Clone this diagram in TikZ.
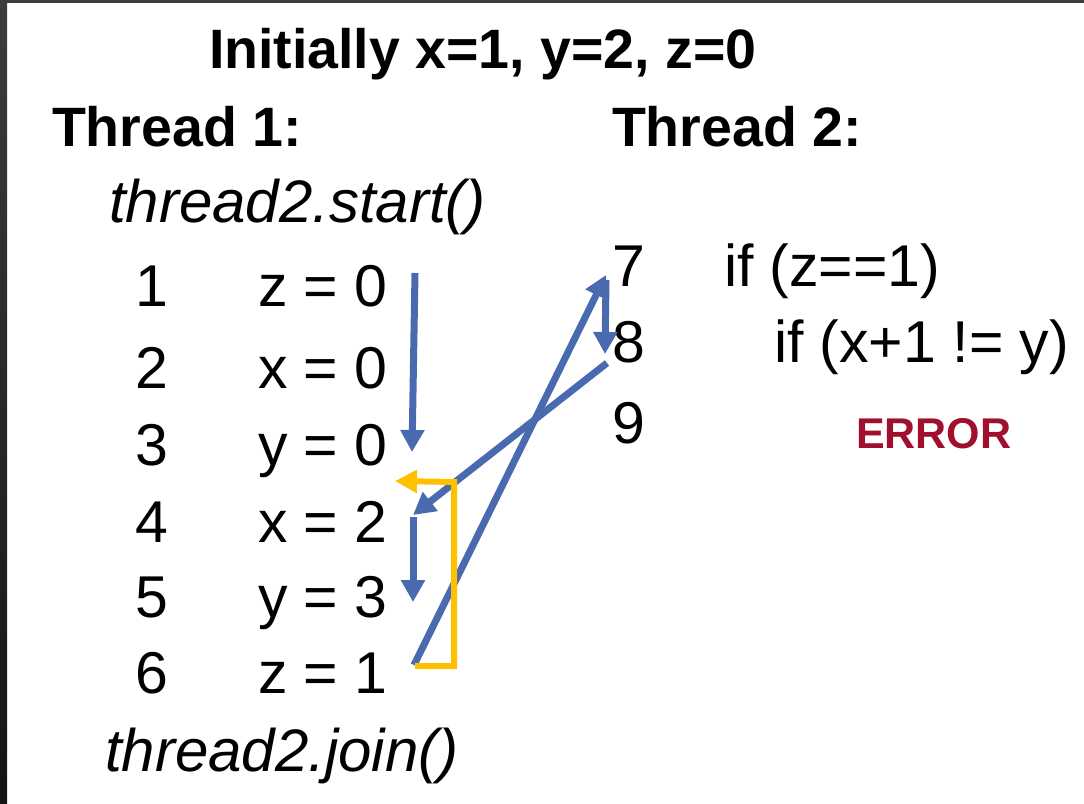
\documentclass[tikz,border=0pt]{standalone}
\usepackage{fontspec}
\setmainfont{Liberation Sans}
\usetikzlibrary{arrows.meta}
\definecolor{flowblue}{RGB}{74,106,175}
\definecolor{flowgold}{RGB}{255,192,0}
\definecolor{errred}{RGB}{160,16,46}
\definecolor{frameA}{RGB}{60,60,60}
\definecolor{frameB}{RGB}{20,20,20}
\tikzset{
  txt/.style={anchor=base west, inner sep=0pt, outer sep=0pt},
  head/.style={txt, font=\fontsize{55.5}{66}\selectfont\bfseries},
  big/.style={txt, font=\fontsize{59}{70}\selectfont},
  codeit/.style={txt, font=\fontsize{60}{72}\selectfont\itshape},
  errtxt/.style={txt, font=\fontsize{43}{52}\selectfont\bfseries, text=errred},
  flow/.style={draw=flowblue, line width=7pt, -{Triangle[length=22pt,width=23pt]}},
  back/.style={draw=flowgold, line width=6pt, line join=miter, -{Triangle[length=22pt,width=22pt]}}
}
\begin{document}
\begin{tikzpicture}[x=1pt,y=-1pt]
\useasboundingbox (0,0) rectangle (1084,803);
\fill[white] (0,0) rectangle (1084,803);
\fill[frameA] (0,0) rectangle (1084,3);
\shade[top color=frameA, bottom color=frameB] (0,0) rectangle (7,803);

% headings
\node[head] (title) at (209,68) {Initially x=1, y=2, z=0};
\node[head] (th1) at (52,146) {Thread 1:};
\node[head] (th2) at (612,146) {Thread 2:};
\node[codeit] (start) at (109,222) {thread2.start()};
\node[codeit] (join) at (105,771) {thread2.join()};

% thread 1 lines
\node[big] (n1) at (135,306) {1};
\node[big] (n2) at (135,388) {2};
\node[big] (n3) at (135,465) {3};
\node[big] (n4) at (135,542) {4};
\node[big] (n5) at (135,617) {5};
\node[big] (n6) at (135,693) {6};
\node[big] (s1) at (258,306) {z = 0};
\node[big] (s2) at (258,388) {x = 0};
\node[big] (s3) at (258,465) {y = 0};
\node[big] (s4) at (258,542) {x = 2};
\node[big] (s5) at (258,617) {y = 3};
\node[big] (s6) at (258,693) {z = 1};

% thread 2 lines
\node[big] (n7) at (612,286) {7};
\node[big] (n8) at (612,362) {8};
\node[big] (n9) at (612,443) {9};
\node[big] (c7) at (724,286) {if (z==1)};
\node[big] (c8) at (774,362) {if (x+1 != y)};
\node[errtxt] (err) at (856,448) {ERROR};

% connector end points
\coordinate (a1s) at (415,273);
\coordinate (a1e) at (412,452);
\coordinate (a2s) at (413,517);
\coordinate (a2e) at (413,602);
\coordinate (a3s) at (414,665);
\coordinate (a3e) at (606,275);
\coordinate (a4s) at (606,280);
\coordinate (a4e) at (605,354);
\coordinate (a5s) at (607,363);
\coordinate (a5e) at (413,515);
\coordinate (ys) at (415,666);
\coordinate (yc1) at (454,666);
\coordinate (yc2) at (454,482);
\coordinate (ye) at (395,481);

% interleaving arrows
\draw[flow] (a1s) -- (a1e);
\draw[flow] (a2s) -- (a2e);
\draw[flow] (a3s) -- (a3e);
\draw[flow] (a4s) -- (a4e);
\draw[flow] (a5s) -- (a5e);
\draw[back] (ys) -- (yc1) -- (yc2) -- (ye);
\end{tikzpicture}
\end{document}
